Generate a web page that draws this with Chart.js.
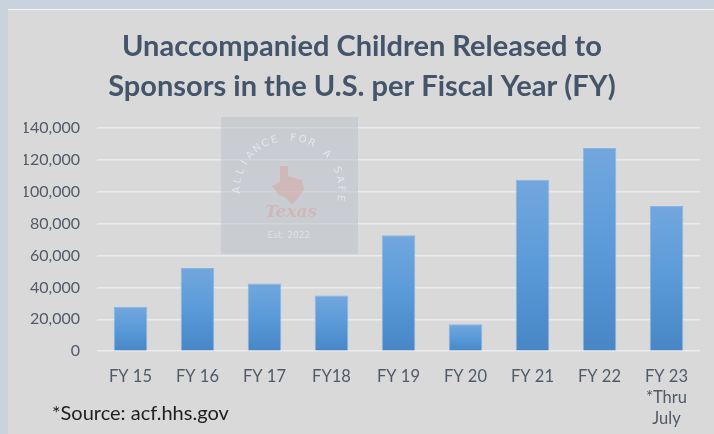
<!DOCTYPE html>
<html>
<head>
<meta charset="utf-8">
<script src="https://cdn.jsdelivr.net/npm/chart.js@4"></script>
<style>
  html, body { margin: 0; padding: 0; background: #c9d3de; }
  #wrap { width: 714px; height: 434px; position: relative; }
</style>
</head>
<body>
<div id="wrap"><canvas id="ucChart" width="714" height="434"></canvas></div>
<script>
const years = ["FY 15", "FY 16", "FY 17", "FY18", "FY 19", "FY 20", "FY 21", "FY 22", ["FY 23", "*Thru", "July"]];
const released = [27800, 52100, 42500, 34900, 72800, 16900, 107500, 127400, 91000];
const yTicks = [0, 20000, 40000, 60000, 80000, 100000, 120000, 140000];

const TEXT = "#505a68";

// each bar gets its own top-to-bottom gradient
function barFill(ctx) {
  const chart = ctx.chart;
  if (!chart.chartArea || ctx.type !== "data") return "#5b9bd5";
  const y = chart.scales.y;
  const top = y.getPixelForValue(ctx.parsed.y);
  const bottom = y.getPixelForValue(0);
  const g = chart.ctx.createLinearGradient(0, top, 0, bottom);
  g.addColorStop(0, "#72a7dd");
  g.addColorStop(0.5, "#5a9ad9");
  g.addColorStop(1, "#4886c6");
  return g;
}

const backdrop = {
  id: "backdrop",
  beforeDraw(chart) {
    const c = chart.ctx;
    c.save();
    c.fillStyle = "#c9d3de";
    c.fillRect(0, 0, chart.width, chart.height);
    c.strokeStyle = "rgba(255,255,255,0.35)";
    c.lineWidth = 6;
    c.beginPath();
    c.arc(260, 520, 520, Math.PI * 1.12, Math.PI * 1.3);
    c.stroke();
    c.fillStyle = "#f2f2f2";
    c.fillRect(8, 9, chart.width - 8, chart.height);
    c.fillStyle = "#d9d9d9";
    c.fillRect(8, 10, chart.width - 8, chart.height);
    c.restore();
  },
  afterDatasetsDraw(chart) {
    const c = chart.ctx;
    c.save();
    // watermark
    c.fillStyle = "rgba(188,195,204,0.55)";
    c.fillRect(221, 117, 137, 137);
    const cx = 289, cy = 190, r = 52;
    const txt = "ALLIANCE FOR A SAFE";
    c.fillStyle = "rgba(235,238,242,0.75)";
    c.font = "10px 'DejaVu Sans'";
    c.textAlign = "center";
    c.textBaseline = "middle";
    const start = Math.PI * 1.0, end = Math.PI * 2.05;
    for (let i = 0; i < txt.length; i++) {
      const a = start + (end - start) * i / (txt.length - 1);
      c.save();
      c.translate(cx + r * Math.cos(a), cy + r * Math.sin(a));
      c.rotate(a + Math.PI / 2);
      c.fillText(txt[i], 0, 0);
      c.restore();
    }
    c.fillStyle = "rgba(214,160,150,0.45)";
    c.beginPath();
    c.moveTo(280, 166); c.lineTo(288, 166); c.lineTo(288, 176); c.lineTo(302, 180);
    c.lineTo(304, 190); c.lineTo(298, 198); c.lineTo(292, 205); c.lineTo(286, 198);
    c.lineTo(278, 194); c.lineTo(272, 186); c.lineTo(280, 182);
    c.closePath();
    c.fill();
    c.font = "italic bold 17px 'DejaVu Serif'";
    c.fillText("Texas", 291, 213);
    c.fillStyle = "rgba(235,238,242,0.6)";
    c.font = "9px 'DejaVu Sans'";
    c.fillText("Est. 2022", 289, 236);
    // source note
    c.fillStyle = "#1e1e1e";
    c.font = "20px Lato";
    c.textAlign = "left";
    c.fillText("*Source: acf.hhs.gov", 52, 414);
    c.restore();
  }
};

new Chart(document.getElementById("ucChart"), {
  type: "bar",
  data: {
    labels: years,
    datasets: [{
      data: released,
      backgroundColor: barFill,
      borderColor: "#86b5e3",
      borderWidth: 1,
      barPercentage: 0.5,
      categoryPercentage: 1.0
    }]
  },
  options: {
    responsive: false,
    animation: false,
    devicePixelRatio: 1,
    layout: { padding: { left: 24, right: 14, top: 0, bottom: -2 } },
    plugins: {
      legend: { display: false },
      tooltip: { enabled: false },
      title: {
        display: true,
        text: ["Unaccompanied Children Released to", "Sponsors in the U.S. per Fiscal Year (FY)"],
        color: "#44546a",
        font: { family: "Lato", size: 29, weight: "bold", lineHeight: 1.38 },
        padding: { top: 27, bottom: 21 }
      }
    },
    scales: {
      x: {
        grid: { display: false },
        border: { display: false },
        ticks: { color: TEXT, font: { family: "Lato", size: 16.5, lineHeight: 1.27 }, padding: 7, maxRotation: 0 }
      },
      y: {
        min: 0,
        max: 140000,
        afterBuildTicks(axis) { axis.ticks = yTicks.map(v => ({ value: v })); },
        afterFit(axis) { axis.width = 73; },
        grid: { color: "#e9ebee", lineWidth: 1.5, drawTicks: false },
        border: { display: false },
        ticks: {
          color: TEXT,
          font: { family: "Lato", size: 16 },
          padding: 17,
          callback: v => v.toLocaleString("en-US")
        }
      }
    }
  },
  plugins: [backdrop]
});
</script>
</body>
</html>
